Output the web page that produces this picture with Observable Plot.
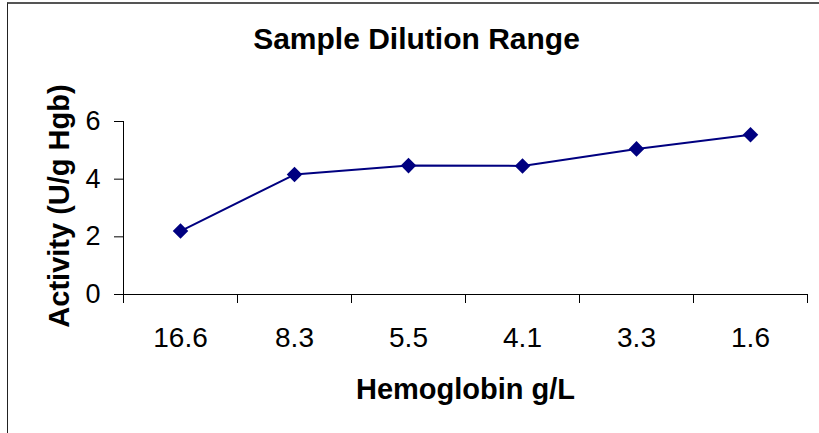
<!DOCTYPE html>
<html>
<head>
<meta charset="utf-8">
<script src="https://cdn.jsdelivr.net/npm/d3@7"></script>
<script src="https://cdn.jsdelivr.net/npm/@observablehq/plot@0.6"></script>
<style>
  html, body { margin: 0; padding: 0; background: #fff; }
  #wrap { position: relative; width: 819px; height: 433px; overflow: hidden; }
  #frame { position: absolute; left: 7px; top: 2px; width: 900px; height: 500px;
           border-left: 1px solid #222; border-top: 2px solid #555; pointer-events: none; }
</style>
</head>
<body>
<div id="wrap"><div id="frame"></div></div>
<script>
const categories = ["16.6", "8.3", "5.5", "4.1", "3.3", "1.6"];
const activity = [2.2, 4.16, 4.47, 4.46, 5.05, 5.54];
const yTicks = [0, 2, 4, 6];
const titleText = "Sample Dilution Range";
const xLabel = "Hemoglobin g/L";
const yLabel = "Activity (U/g Hgb)";

const data = categories.map((c, i) => ({pos: i + 0.5, cat: c, value: activity[i]}));
const edges = d3.range(categories.length + 1);
const centers = categories.map((c, i) => i + 0.5);
const navy = "#000080";
const font = "'Liberation Sans', Arial, sans-serif";

const chart = Plot.plot({
  width: 819,
  height: 433,
  marginLeft: 123,
  marginRight: 12,
  marginTop: 121,
  marginBottom: 139,
  style: {fontFamily: font, background: "transparent", color: "#000"},
  x: {type: "linear", domain: [0, categories.length]},
  y: {domain: [0, 6]},
  marks: [
    Plot.ruleY([0], {stroke: "#000", strokeWidth: 1}),
    Plot.ruleX([0], {stroke: "#000", strokeWidth: 1}),
    Plot.axisY({ticks: yTicks, tickSize: 9, tickPadding: 14, fontSize: 27, label: null, tickFormat: d3.format("d")}),
    Plot.axisX({ticks: edges, tickSize: 9, tickFormat: () => "", label: null}),
    Plot.axisX({ticks: centers, tickSize: 0, tickPadding: 33, fontSize: 28, label: null,
                tickFormat: (d) => categories[Math.round(d - 0.5)]}),
    Plot.line(data, {x: "pos", y: "value", stroke: navy, strokeWidth: 2}),
    Plot.dot(data, {x: "pos", y: "value", symbol: "diamond2", r: 7, fill: navy, stroke: "none"}),
    Plot.text([titleText], {frameAnchor: "top", lineAnchor: "bottom", dx: -49, dy: -73,
                            fontSize: 30, fontWeight: "bold", fill: "#000"}),
    Plot.text([xLabel], {frameAnchor: "bottom", lineAnchor: "bottom", dy: 104,
                         fontSize: 29, fontWeight: "bold", fill: "#000"}),
    Plot.text([yLabel], {frameAnchor: "left", textAnchor: "middle", lineAnchor: "bottom", rotate: -90, dx: -55, dy: -2,
                         fontSize: 29, fontWeight: "bold", fill: "#000"})
  ]
});
document.getElementById("wrap").prepend(chart);
</script>
</body>
</html>
